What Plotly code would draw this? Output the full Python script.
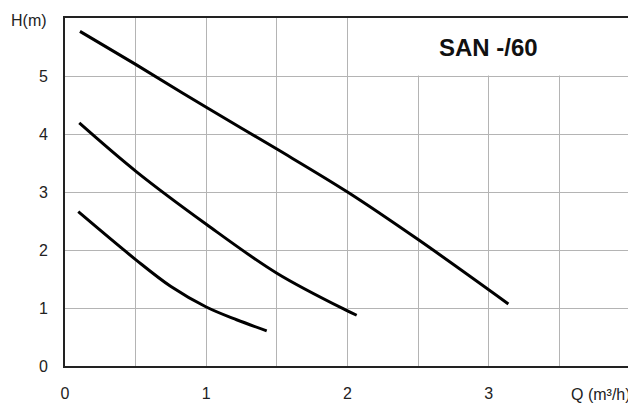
import plotly.graph_objects as go

# Pump curves for SAN -/60 (Q in m3/h, H in m)
q_speed3 = [0.106, 0.5, 1.0, 1.5, 2.0, 2.5, 3.139]
h_speed3 = [5.77, 5.20, 4.46, 3.74, 3.0, 2.18, 1.07]

q_speed2 = [0.101, 0.5, 1.0, 1.5, 2.0, 2.065]
h_speed2 = [4.19, 3.36, 2.444, 1.60, 0.95, 0.875]

q_speed1 = [0.094, 0.5, 0.75, 1.0, 1.215, 1.428]
h_speed1 = [2.66, 1.835, 1.37, 1.017, 0.797, 0.607]

x_tickvals = [0, 0.5, 1, 1.5, 2, 2.5, 3, 3.5]
x_ticktext = ["0", "", "1", "", "2", "", "3", ""]
y_tickvals = [0, 1, 2, 3, 4, 5]
y_ticktext = ["0", "1", "2", "3", "4", "5"]

title_text = "SAN -/60"
x_title = "Q (m³/h)"
y_title = "H(m)"

FONT = "Liberation Sans, Arial, Helvetica, sans-serif"

fig = go.Figure()
for qs, hs in [(q_speed3, h_speed3), (q_speed2, h_speed2), (q_speed1, h_speed1)]:
    fig.add_trace(go.Scatter(
        x=qs, y=hs, mode="lines",
        line=dict(color="black", width=3, shape="spline", smoothing=1.0),
        showlegend=False, hoverinfo="skip",
    ))

# white box behind the title (hides grid in the top-right cell row)
fig.add_shape(type="rect", xref="x", yref="y", x0=2.006, x1=4, y0=5.01, y1=6,
              fillcolor="white", line=dict(width=0), layer="between")

fig.add_annotation(x=3.0, y=5.49, xref="x", yref="y", text="<b>" + title_text + "</b>",
                   showarrow=False, font=dict(family=FONT, size=24, color="#111"))
fig.add_annotation(x=-0.0646, y=0.994, xref="paper", yref="paper", xanchor="center", yanchor="middle",
                   text=y_title, showarrow=False, font=dict(family=FONT, size=16, color="#222"))
fig.add_annotation(x=0.948, y=-0.083, xref="paper", yref="paper", xanchor="center", yanchor="middle",
                   text=x_title, showarrow=False, font=dict(family=FONT, size=16, color="#222"))

fig.update_xaxes(
    range=[0, 4], tickvals=x_tickvals, ticktext=x_ticktext,
    showgrid=True, gridcolor="#b4b4b4", gridwidth=1,
    showline=True, linecolor="#222", linewidth=1.8, mirror=True,
    ticks="", ticklabelstandoff=12, zeroline=False, automargin=False,
    tickfont=dict(family=FONT, size=16, color="#222"),
)
fig.update_yaxes(
    range=[0, 6], tickvals=y_tickvals, ticktext=y_ticktext,
    showgrid=True, gridcolor="#b4b4b4", gridwidth=1,
    showline=True, linecolor="#222", linewidth=1.8, mirror=True,
    ticks="", ticklabelstandoff=12, zeroline=False, automargin=False,
    tickfont=dict(family=FONT, size=16, color="#222"),
)

# page body has an 8px margin, so the figure is sized/offset to compensate
fig.update_layout(
    width=628, height=395,
    margin=dict(l=57, r=6, t=10, b=37),
    paper_bgcolor="white", plot_bgcolor="white",
    font=dict(family=FONT),
)

fig.write_html("out.html")
